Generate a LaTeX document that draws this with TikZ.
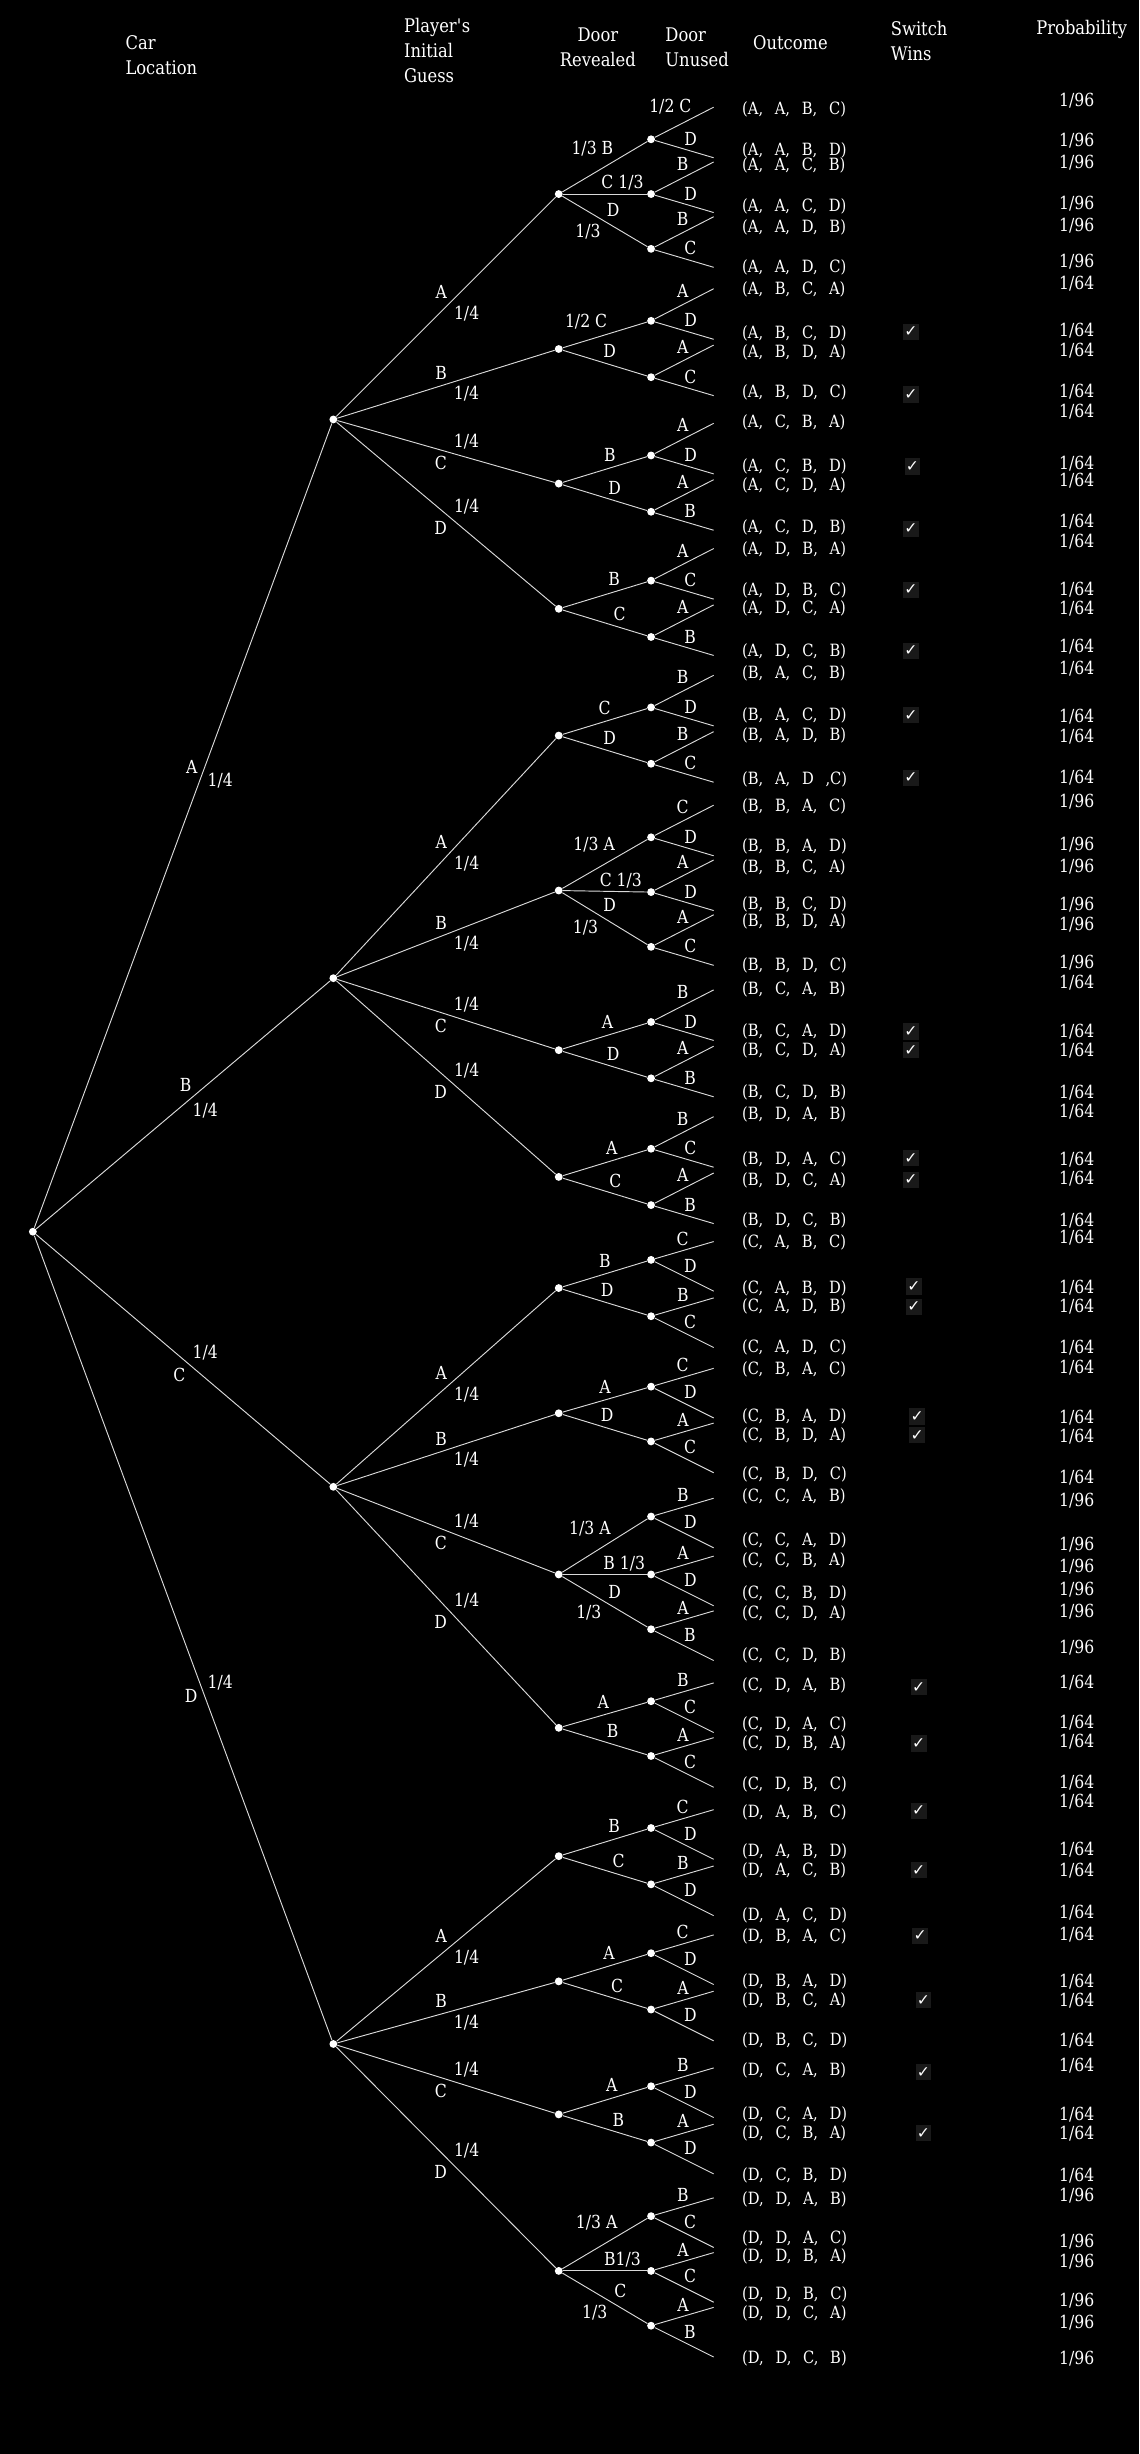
\documentclass[tikz,border=0pt]{standalone}
\usepackage{fontspec}
\setmainfont[FakeStretch=0.87]{DejaVu Serif}
\newfontfamily\ocfont[FakeStretch=0.87,WordSpace=2.5]{DejaVu Serif}
\newfontfamily\hakfont{DejaVu Sans}

\tikzset{
	dot/.style={circle, fill=white, inner sep=0pt, minimum size=5pt},
	ast/.style={draw=white!85!black, line width=0.6pt},
	lbl/.style={text=white, font=\fontsize{11.5}{13}\selectfont, inner sep=2pt},
	eu/.style={lbl, auto=left, pos=.62, inner sep=1.5pt},
	el/.style={lbl, auto=left, pos=.45, inner sep=1.5pt},
	lb/.style={lbl, auto=right},
	head/.style={text=white, font=\fontsize{12}{16}\selectfont, align=left, anchor=west, inner sep=0pt},
	oc/.style={text=white, font=\ocfont\fontsize{10.8}{12}\selectfont, anchor=west, inner sep=0pt},
	pr/.style={text=white, font=\fontsize{11.5}{13}\selectfont, inner sep=0pt},
	hak/.style={fill=black!90!white, text=white, font=\hakfont\fontsize{10}{10}\selectfont, minimum width=10pt, minimum height=10.5pt, inner sep=0pt},
}

\begin{document}
\begin{tikzpicture}[x=1pt, y=-1pt]
	\fill[black] (0,0) rectangle (728,1568); % schwarzer Hintergrund
	\useasboundingbox (0,0) rectangle (728,1568);

	% Kopfzeile
	\node[head] (hcar) at (80,35) {Car\\Location};
	\node[head] (hguess) at (258,32) {Player\textquotesingle s\\Initial\\Guess};
	\node[head, align=center, anchor=center] (hrev) at (382,30) {Door\\Revealed};
	\node[head] (hunused) at (425,30) {Door\\Unused};
	\node[head] (hout) at (481,27) {Outcome};
	\node[head] (hwins) at (569,26) {Switch\\Wins};
	\node[head] (hprob) at (662,19) {Probability};

	% Ebene 1: wo steht das Auto
	\node[dot] (car) at (21,787) {};
	\node[dot] (A) at (213,268) {};
	\node[dot] (B) at (213,625) {};
	\node[dot] (C) at (213,950) {};
	\node[dot] (D) at (213,1306) {};
	\draw[ast] (car) -- node[lbl, auto=left, pos=.56] {A} node[lbl, auto=right, pos=.57] {1/4} (A);
	\draw[ast] (car) -- node[lbl, auto=left, pos=.54] {B} node[lbl, auto=right, pos=.52] {1/4} (B);
	\draw[ast] (car) -- node[lbl, auto=left, pos=.52] {1/4} node[lbl, auto=right, pos=.52] {C} (C);
	\draw[ast] (car) -- node[lbl, auto=left, pos=.57] {1/4} node[lbl, auto=right, pos=.56] {D} (D);

	% Ebene 2: erste Wahl
	\foreach \ca/\gs/\y/\ls/\ps in {A/A/124/left/right, A/B/223/left/right, A/C/309/right/left, A/D/389/right/left,
		B/A/470/left/right, B/B/569/left/right, B/C/671/right/left, B/D/752/right/left,
		C/A/823/left/right, C/B/903/left/right, C/C/1006/right/left, C/D/1104/right/left,
		D/A/1186/left/right, D/B/1266/left/right, D/C/1351/right/left, D/D/1451/right/left}{
		\node[dot] (\ca\gs) at (357,\y) {};
		\draw[ast] (\ca) -- node[lbl, auto=\ls, pos=.52] {\gs} node[lbl, auto=\ps, pos=.52] {1/4} (\ca\gs);
	}

	% Ebene 3: geoeffnete Tuer
	\foreach \ca/\gs/\rv/\y/\ps/\lab in {A/A/B/89/.64/{1/3 B}, A/A/C/124/.71/{C 1/3}, A/A/D/159/.48/D,
		A/B/C/205/.57/{1/2 C}, A/B/D/241/.44/D, A/C/B/291/.67/B, A/C/D/327/.50/D,
		A/D/B/371/.72/B, A/D/C/407/.56/C,
		B/A/C/452/.61/C, B/A/D/488/.44/D,
		B/B/A/535/.66/{1/3 A}, B/B/C/570/.69/{C 1/3}, B/B/D/605/.44/D,
		B/C/A/653/.64/A, B/C/D/689/.48/D, B/D/A/734/.69/A, B/D/C/770/.51/C,
		C/A/B/805/.61/B, C/A/D/841/.41/D, C/B/A/886/.61/A, C/B/D/921/.41/D,
		C/C/A/969/.61/{1/3 A}, C/C/B/1006/.73/{B 1/3}, C/C/D/1041/.50/D,
		C/D/A/1087/.59/A, C/D/B/1122/.48/B,
		D/A/B/1168/.72/B, D/A/C/1204/.55/C, D/B/A/1248/.66/A, D/B/C/1284/.53/C,
		D/C/A/1333/.69/A, D/C/B/1369/.55/B,
		D/D/A/1416/.69/{1/3 A}, D/D/B/1451/.71/{B1/3}, D/D/C/1486/.57/C}{
		\node[dot] (\ca\gs\rv) at (416,\y) {};
		\draw[ast] (\ca\gs) -- node[lbl, auto=left, pos=\ps] {\lab} (\ca\gs\rv);
	}
	\foreach \m/\n/\ps in {AA/AAD/.49, BB/BBD/.46, CC/CCD/.50, DD/DDC/.57}
		\path (\m) -- node[lb, pos=\ps] {1/3} (\n);

	% Ebene 4: uebrige Tuer
	\coordinate (AABC) at (456,68.5);
	\draw[ast] (AAB) -- node[eu, pos=.67] {1/2 C} (AABC);
	\foreach \ca/\gs/\rv/\un/\y/\sty in {A/A/B/D/100.8/el,
		A/A/C/B/103.5/eu, A/A/C/D/135.8/el, A/A/D/B/138.5/eu, A/A/D/C/170.8/el,
		A/B/C/A/184.5/eu, A/B/C/D/216.8/el, A/B/D/A/220.5/eu, A/B/D/C/252.8/el,
		A/C/B/A/270.5/eu, A/C/B/D/302.8/el, A/C/D/A/306.5/eu, A/C/D/B/338.8/el,
		A/D/B/A/350.5/eu, A/D/B/C/382.8/el, A/D/C/A/386.5/eu, A/D/C/B/418.8/el,
		B/A/C/B/431.5/eu, B/A/C/D/463.8/el, B/A/D/B/467.5/eu, B/A/D/C/499.8/el,
		B/B/A/C/514.5/eu, B/B/A/D/546.8/el, B/B/C/A/549.5/eu, B/B/C/D/581.8/el,
		B/B/D/A/584.5/eu, B/B/D/C/616.8/el,
		B/C/A/B/632.5/eu, B/C/A/D/664.8/el, B/C/D/A/668.5/eu, B/C/D/B/700.8/el,
		B/D/A/B/713.5/eu, B/D/A/C/745.8/el, B/D/C/A/749.5/eu, B/D/C/B/781.8/el,
		C/A/B/C/793.3/eu, C/A/B/D/825/el, C/A/D/B/829.3/eu, C/A/D/C/861/el,
		C/B/A/C/874.3/eu, C/B/A/D/906/el, C/B/D/A/909.3/eu, C/B/D/C/941/el,
		C/C/A/B/957.3/eu, C/C/A/D/989/el, C/C/B/A/994.3/eu, C/C/B/D/1026/el,
		C/C/D/A/1029.3/eu, C/C/D/B/1061/el,
		C/D/A/B/1075.3/eu, C/D/A/C/1107/el, C/D/B/A/1110.3/eu, C/D/B/C/1142/el,
		D/A/B/C/1156.3/eu, D/A/B/D/1188/el, D/A/C/B/1192.3/eu, D/A/C/D/1224/el,
		D/B/A/C/1236.3/eu, D/B/A/D/1268/el, D/B/C/A/1272.3/eu, D/B/C/D/1304/el,
		D/C/A/B/1321.3/eu, D/C/A/D/1353/el, D/C/B/A/1357.3/eu, D/C/B/D/1389/el,
		D/D/A/B/1404.3/eu, D/D/A/C/1436/el, D/D/B/A/1439.3/eu, D/D/B/C/1471/el,
		D/D/C/A/1474.3/eu, D/D/C/B/1506/el}{
		\coordinate (\ca\gs\rv\un) at (456,\y);
		\draw[ast] (\ca\gs\rv) -- node[\sty] {\un} (\ca\gs\rv\un);
	}

	% Ergebnisse
	\foreach \y/\txt [count=\i] in {70/{(A, A, B, C)}, 96/{(A, A, B, D)}, 106/{(A, A, C, B)},
		132/{(A, A, C, D)}, 145/{(A, A, D, B)}, 171/{(A, A, D, C)},
		185/{(A, B, C, A)}, 213/{(A, B, C, D)}, 225/{(A, B, D, A)}, 251/{(A, B, D, C)},
		270/{(A, C, B, A)}, 298/{(A, C, B, D)}, 310/{(A, C, D, A)}, 337/{(A, C, D, B)},
		351/{(A, D, B, A)}, 377/{(A, D, B, C)}, 389/{(A, D, C, A)}, 416/{(A, D, C, B)},
		430/{(B, A, C, B)}, 457/{(B, A, C, D)}, 470/{(B, A, D, B)}, 498/{(B, A, D ,C)},
		515/{(B, B, A, C)}, 541/{(B, B, A, D)}, 554/{(B, B, C, A)}, 578/{(B, B, C, D)},
		589/{(B, B, D, A)}, 617/{(B, B, D, C)},
		632/{(B, C, A, B)}, 659/{(B, C, A, D)}, 671/{(B, C, D, A)}, 698/{(B, C, D, B)},
		712/{(B, D, A, B)}, 741/{(B, D, A, C)}, 754/{(B, D, C, A)}, 780/{(B, D, C, B)},
		794/{(C, A, B, C)}, 823/{(C, A, B, D)}, 835/{(C, A, D, B)}, 861/{(C, A, D, C)},
		875/{(C, B, A, C)}, 905/{(C, B, A, D)}, 917/{(C, B, D, A)}, 942/{(C, B, D, C)},
		956/{(C, C, A, B)}, 984/{(C, C, A, D)}, 997/{(C, C, B, A)}, 1018/{(C, C, B, D)},
		1031/{(C, C, D, A)}, 1058/{(C, C, D, B)},
		1077/{(C, D, A, B)}, 1102/{(C, D, A, C)}, 1114/{(C, D, B, A)}, 1140/{(C, D, B, C)},
		1158/{(D, A, B, C)}, 1183/{(D, A, B, D)}, 1195/{(D, A, C, B)}, 1224/{(D, A, C, D)},
		1237/{(D, B, A, C)}, 1266/{(D, B, A, D)}, 1278/{(D, B, C, A)}, 1304/{(D, B, C, D)},
		1323/{(D, C, A, B)}, 1351/{(D, C, A, D)}, 1363/{(D, C, B, A)}, 1390/{(D, C, B, D)},
		1405/{(D, D, A, B)}, 1430/{(D, D, A, C)}, 1442/{(D, D, B, A)}, 1466/{(D, D, B, C)},
		1478/{(D, D, C, A)}, 1507/{(D, D, C, B)}}
		\node[oc] (o\i) at (474,\y) {\txt};

	% Wechseln gewinnt
	\foreach \x/\y [count=\i] in {582/212, 582/252, 583/298, 582/338, 582/377, 582/416,
		582/457, 582/497, 582/659, 582/671, 582/740, 582/754,
		584/822, 584/835, 586/905, 586/917, 587/1078, 587/1114,
		587/1157, 587/1195, 588/1237, 590/1278, 590/1324, 590/1363}
		\node[hak] (w\i) at (\x,\y) {✓};

	% Wahrscheinlichkeit
	\foreach \y/\nn [count=\i] in {64/96, 90/96, 104/96, 130/96, 144/96, 167/96,
		181/64, 211/64, 224/64, 250/64, 263/64, 296/64, 307/64, 333/64, 346/64, 377/64, 389/64, 413/64,
		427/64, 458/64, 471/64, 497/64, 512/96, 540/96, 554/96, 578/96, 591/96, 615/96,
		628/64, 659/64, 671/64, 698/64, 710/64, 741/64, 753/64, 780/64,
		791/64, 823/64, 835/64, 861/64, 874/64, 906/64, 918/64, 944/64,
		959/96, 987/96, 1001/96, 1016/96, 1030/96, 1053/96,
		1075/64, 1101/64, 1113/64, 1139/64, 1151/64, 1182/64, 1195/64, 1222/64,
		1236/64, 1266/64, 1278/64, 1304/64, 1320/64, 1351/64, 1363/64, 1390/64,
		1403/96, 1432/96, 1445/96, 1470/96, 1484/96, 1507/96}
		\node[pr] (p\i) at (688,\y) {1/\nn};
\end{tikzpicture}
\end{document}
